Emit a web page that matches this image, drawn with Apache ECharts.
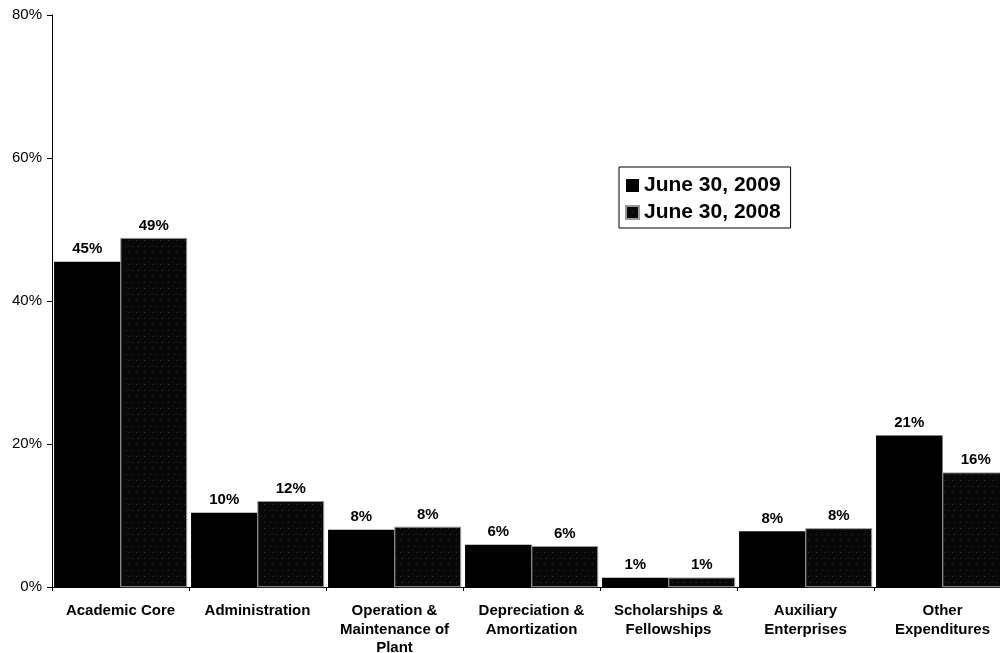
<!DOCTYPE html>
<html>
<head>
<meta charset="utf-8">
<script src="https://cdn.jsdelivr.net/npm/echarts@6/dist/echarts.min.js"></script>
<style>html,body{margin:0;padding:0;background:#fff;}#wrap{width:1000px;height:653px;overflow:hidden;position:relative;}#c{width:1011px;height:653px;position:absolute;left:0;top:0;}</style>
</head>
<body>
<div id="wrap"><div id="c"></div></div>
<script>
const categories = ['Academic Core', 'Administration', 'Operation &\nMaintenance of\nPlant', 'Depreciation &\nAmortization', 'Scholarships &\nFellowships', 'Auxiliary\nEnterprises', 'Other\nExpenditures'];
const values2009 = [45.5, 10.4, 8.0, 5.9, 1.3, 7.8, 21.2];
const values2008 = [48.8, 12.0, 8.4, 5.7, 1.3, 8.2, 16.0];
const labels2009 = ['45%', '10%', '8%', '6%', '1%', '8%', '21%'];
const labels2008 = ['49%', '12%', '8%', '6%', '1%', '8%', '16%'];
const yTicks = [0, 20, 40, 60, 80];

const font = 'Arial, "Liberation Sans", sans-serif';
const chart = echarts.init(document.getElementById('c'));
chart.setOption({
  animation: false,
  backgroundColor: '#fff',
  grid: { left: 52, right: 0, top: 15, bottom: 66, containLabel: false, outerBoundsMode: 'none' },
  legend: {
    orient: 'vertical',
    left: 619, top: 167,
    itemWidth: 13, itemHeight: 13,
    itemGap: 6,
    padding: [8, 10, 5, 6],
    borderColor: '#000', borderWidth: 1,
    backgroundColor: '#fff',
    textStyle: { fontFamily: font, fontSize: 21, fontWeight: 'bold', color: '#000' },
    data: [{ name: 'June 30, 2009', icon: 'rect' }, { name: 'June 30, 2008', icon: 'rect' }]
  },
  xAxis: {
    type: 'category',
    data: categories,
    axisLine: { lineStyle: { color: '#000', width: 1 } },
    axisTick: { show: true, length: 4, lineStyle: { color: '#000' } },
    axisLabel: { interval: 0, margin: 15, fontFamily: font, fontSize: 15, fontWeight: 'bold', color: '#000', lineHeight: 18.5 }
  },
  yAxis: {
    type: 'value',
    min: yTicks[0], max: yTicks[yTicks.length - 1], interval: 20,
    splitLine: { show: false },
    axisLine: { show: true, lineStyle: { color: '#000', width: 1 } },
    axisTick: { show: true, length: 5, lineStyle: { color: '#000' } },
    axisLabel: { margin: 10, fontFamily: font, fontSize: 15, color: '#000', formatter: v => v + '%' }
  },
  series: [
    {
      name: 'June 30, 2009', type: 'bar', data: values2009,
      barGap: '0%', barCategoryGap: '3%',
      itemStyle: { color: '#000' },
      label: { show: true, position: 'top', distance: 5, fontFamily: font, fontSize: 15, fontWeight: 'bold', color: '#000',
        formatter: p => labels2009[p.dataIndex] }
    },
    {
      name: 'June 30, 2008', type: 'bar', data: values2008,
      barGap: '0%', barCategoryGap: '3%',
      itemStyle: {
        color: '#080808',
        borderColor: '#999', borderWidth: 0.6,
        decal: { symbol: 'rect', symbolSize: 0.45, color: 'rgba(220,220,220,0.75)', dashArrayX: [[1, 5], [1, 7]], dashArrayY: [1, 5], rotation: 0 }
      },
      label: { show: true, position: 'top', distance: 5, fontFamily: font, fontSize: 15, fontWeight: 'bold', color: '#000',
        formatter: p => labels2008[p.dataIndex] }
    }
  ]
});
</script>
</body>
</html>
